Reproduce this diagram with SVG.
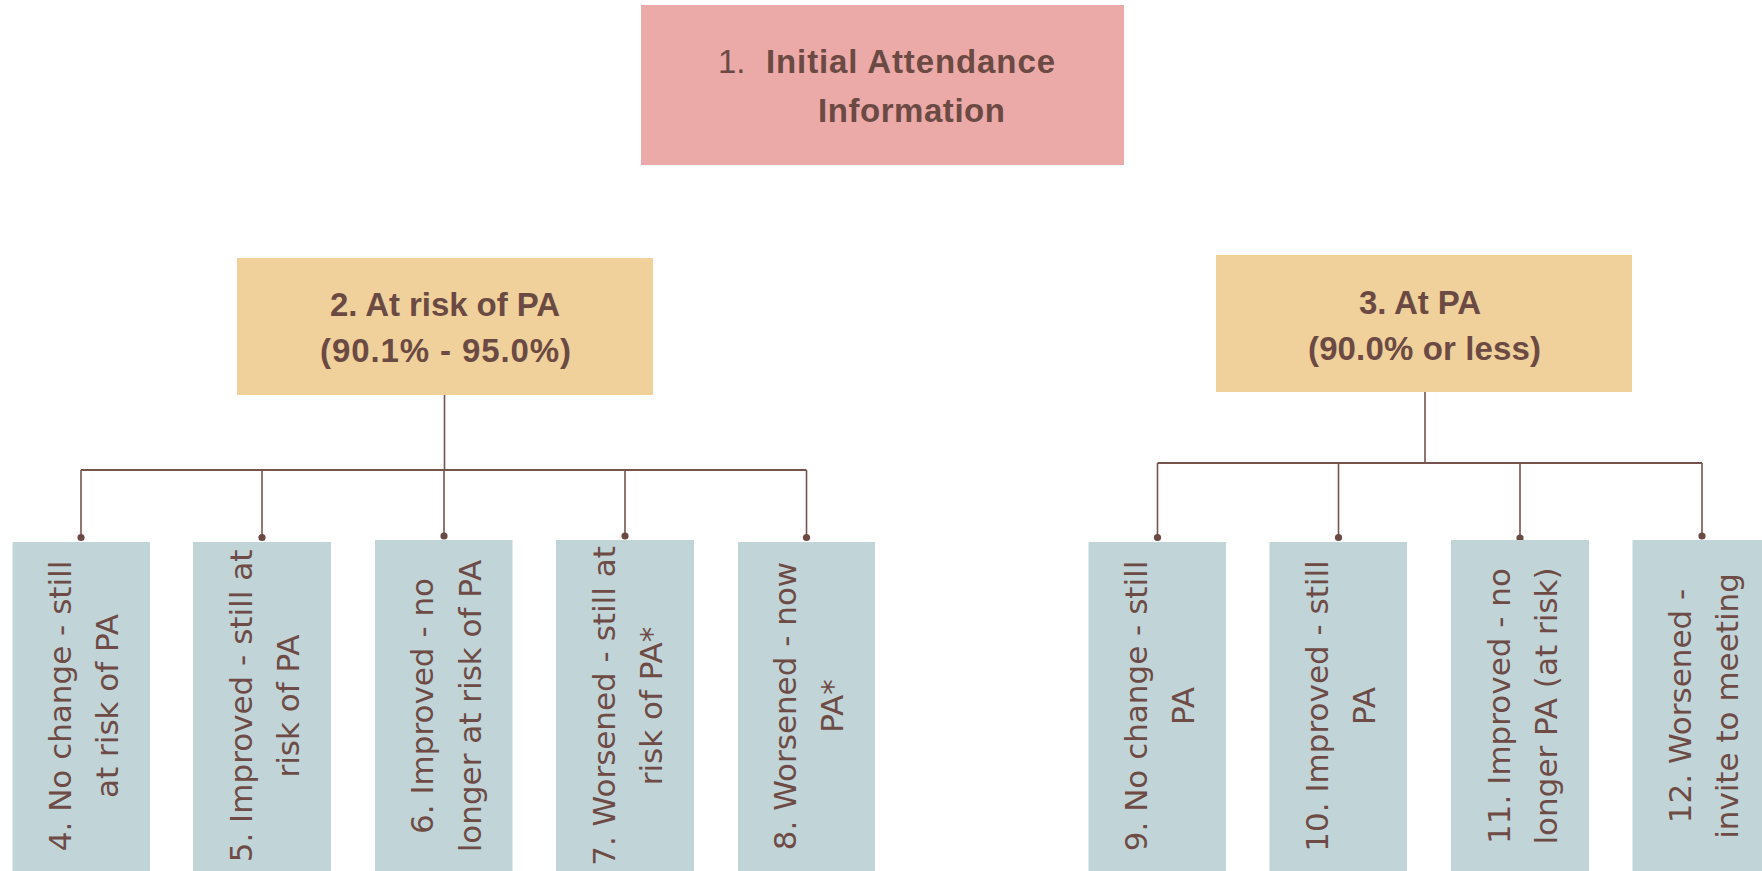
<svg xmlns="http://www.w3.org/2000/svg" width="1762" height="871" viewBox="0 0 1762 871">
<defs>
<style>
.top{fill:#EBA9A8}
.mid{fill:#F0D19B}
.leaf{fill:#C1D5D9}
.hb{font-family:"Liberation Sans",Arial,sans-serif;font-weight:bold;font-size:33px;fill:#6B4A44}
.hr{font-family:"Liberation Sans",Arial,sans-serif;font-size:33px;fill:#6B4A44}
.lt{font-family:"DejaVu Sans",sans-serif;font-size:31px;fill:#6E4B45;text-anchor:middle}
.c{fill:none;stroke:#76534D;stroke-width:1.6}
.h{fill:none;stroke:#76534D;stroke-width:2}
</style>
<marker id="dot" markerUnits="userSpaceOnUse" markerWidth="10" markerHeight="10" viewBox="-5 -5 10 10" refX="0" refY="0" orient="auto">
<circle r="3.6" fill="#6B4A44"/>
</marker>
</defs>
<rect width="1762" height="871" fill="#FFFFFF"/>

<g id="connectors">
<path class="c" d="M444.5 395V470"/>
<path class="h" d="M81 470H806.5"/>
<path class="c" d="M81 470V537.5" marker-end="url(#dot)"/>
<path class="c" d="M262 470V537.5" marker-end="url(#dot)"/>
<path class="c" d="M444 470V536" marker-end="url(#dot)"/>
<path class="c" d="M625 470V536" marker-end="url(#dot)"/>
<path class="c" d="M806.5 470V537.5" marker-end="url(#dot)"/>
<path class="c" d="M1425 392V463"/>
<path class="h" d="M1157.5 463H1702"/>
<path class="c" d="M1157.5 463V537.5" marker-end="url(#dot)"/>
<path class="c" d="M1338.5 463V537.5" marker-end="url(#dot)"/>
<path class="c" d="M1520 463V538" marker-end="url(#dot)"/>
<path class="c" d="M1702 463V536" marker-end="url(#dot)"/>
</g>

<g id="node1">
<rect class="top" x="641" y="5" width="483" height="160"/>
<text class="hr" x="718" y="73">1.</text>
<text class="hb" x="766" y="73" textLength="289">Initial Attendance</text>
<text class="hb" x="818" y="122" textLength="187">Information</text>
</g>

<g id="node2">
<rect class="mid" x="237" y="258" width="416" height="137"/>
<text class="hb" x="330" y="316" textLength="230">2. At risk of PA</text>
<text class="hb" x="320" y="362" textLength="251">(90.1% - 95.0%)</text>
</g>

<g id="node3">
<rect class="mid" x="1216" y="255" width="416" height="137"/>
<text class="hb" x="1359" y="314" textLength="122">3. At PA</text>
<text class="hb" x="1308" y="360" textLength="233">(90.0% or less)</text>
</g>

<g id="node4">
<rect class="leaf" x="12.5" y="542" width="137.5" height="332"/>
<text class="lt" transform="translate(70.8,706) rotate(-90)">4. No change - still</text>
<text class="lt" transform="translate(118,706) rotate(-90)">at risk of PA</text>
</g>

<g id="node5">
<rect class="leaf" x="193" y="542" width="138" height="332"/>
<text class="lt" transform="translate(251.5,706) rotate(-90)">5. Improved - still at</text>
<text class="lt" transform="translate(298.8,706) rotate(-90)">risk of PA</text>
</g>

<g id="node6">
<rect class="leaf" x="375" y="540" width="137.5" height="334"/>
<text class="lt" transform="translate(433.2,706) rotate(-90)">6. Improved - no</text>
<text class="lt" transform="translate(480.5,706) rotate(-90)">longer at risk of PA</text>
</g>

<g id="node7">
<rect class="leaf" x="556" y="540" width="138" height="334"/>
<text class="lt" transform="translate(614.5,706) rotate(-90)">7. Worsened - still at</text>
<text class="lt" transform="translate(661.8,706) rotate(-90)">risk of PA*</text>
</g>

<g id="node8">
<rect class="leaf" x="738" y="542" width="137" height="332"/>
<text class="lt" transform="translate(796,706) rotate(-90)">8. Worsened - now</text>
<text class="lt" transform="translate(843.3,706) rotate(-90)">PA*</text>
</g>

<g id="node9">
<rect class="leaf" x="1088.5" y="542" width="137.5" height="332"/>
<text class="lt" transform="translate(1146.8,706) rotate(-90)">9. No change - still</text>
<text class="lt" transform="translate(1194,706) rotate(-90)">PA</text>
</g>

<g id="node10">
<rect class="leaf" x="1269.5" y="542" width="137.5" height="332"/>
<text class="lt" transform="translate(1327.8,706) rotate(-90)">10. Improved - still</text>
<text class="lt" transform="translate(1375,706) rotate(-90)">PA</text>
</g>

<g id="node11">
<rect class="leaf" x="1451" y="540" width="138" height="334"/>
<text class="lt" transform="translate(1509.8,706) rotate(-90)">11. Improved - no</text>
<text class="lt" transform="translate(1557,706) rotate(-90)">longer PA (at risk)</text>
</g>

<g id="node12">
<rect class="leaf" x="1632.5" y="540" width="137.5" height="334"/>
<text class="lt" transform="translate(1690.5,706) rotate(-90)">12. Worsened -</text>
<text class="lt" transform="translate(1737.8,706) rotate(-90)">invite to meeting</text>
</g>
</svg>
